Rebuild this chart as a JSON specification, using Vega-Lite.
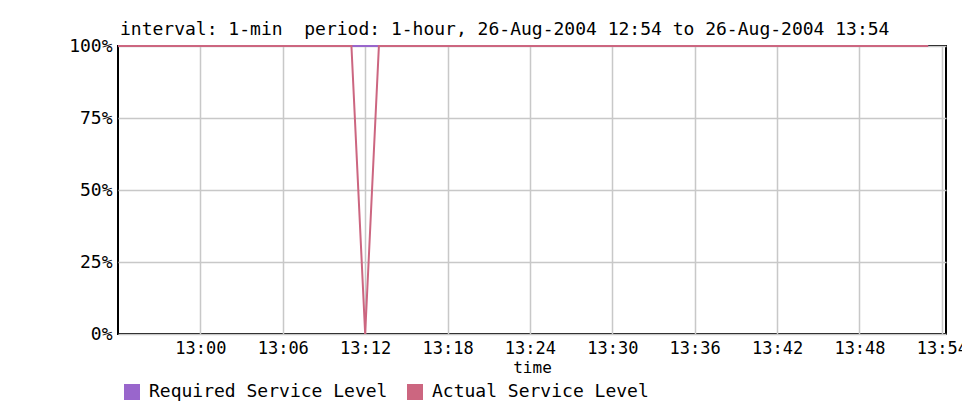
{
  "$schema": "https://vega.github.io/schema/vega-lite/v6.json",
  "width": 828,
  "height": 288,
  "autosize": {"type": "none"},
  "padding": {"left": 118, "top": 46, "right": 16, "bottom": 76},
  "background": "white",
  "title": {
    "text": "interval: 1-min\u00a0\u00a0period: 1-hour, 26-Aug-2004 12:54 to 26-Aug-2004 13:54",
    "anchor": "start",
    "frame": "group",
    "font": "DejaVu Sans Mono",
    "fontSize": 18,
    "fontWeight": "normal",
    "color": "#000000",
    "offset": 8,
    "dx": 2,
    "dy": 10
  },
  "config": {
    "view": {"stroke": "#000000", "strokeWidth": 2},
    "axis": {
      "labelFont": "DejaVu Sans Mono",
      "labelFontSize": 18,
      "labelColor": "#000000",
      "titleFont": "DejaVu Sans Mono",
      "titleFontSize": 16,
      "titleFontWeight": "normal",
      "titleColor": "#000000",
      "domain": false,
      "ticks": false,
      "gridColor": "#c8c8c8",
      "gridWidth": 1.5,
      "gridOpacity": 1
    },
    "legend": {
      "labelFont": "DejaVu Sans Mono",
      "labelFontSize": 18,
      "labelColor": "#000000",
      "labelLimit": 400
    }
  },
  "data": {
    "values": [
      {"t": "2004-08-26T12:54:00Z", "required": 100, "actual": 100},
      {"t": "2004-08-26T12:55:00Z", "required": 100, "actual": 100},
      {"t": "2004-08-26T12:56:00Z", "required": 100, "actual": 100},
      {"t": "2004-08-26T12:57:00Z", "required": 100, "actual": 100},
      {"t": "2004-08-26T12:58:00Z", "required": 100, "actual": 100},
      {"t": "2004-08-26T12:59:00Z", "required": 100, "actual": 100},
      {"t": "2004-08-26T13:00:00Z", "required": 100, "actual": 100},
      {"t": "2004-08-26T13:01:00Z", "required": 100, "actual": 100},
      {"t": "2004-08-26T13:02:00Z", "required": 100, "actual": 100},
      {"t": "2004-08-26T13:03:00Z", "required": 100, "actual": 100},
      {"t": "2004-08-26T13:04:00Z", "required": 100, "actual": 100},
      {"t": "2004-08-26T13:05:00Z", "required": 100, "actual": 100},
      {"t": "2004-08-26T13:06:00Z", "required": 100, "actual": 100},
      {"t": "2004-08-26T13:07:00Z", "required": 100, "actual": 100},
      {"t": "2004-08-26T13:08:00Z", "required": 100, "actual": 100},
      {"t": "2004-08-26T13:09:00Z", "required": 100, "actual": 100},
      {"t": "2004-08-26T13:10:00Z", "required": 100, "actual": 100},
      {"t": "2004-08-26T13:11:00Z", "required": 100, "actual": 100},
      {"t": "2004-08-26T13:12:00Z", "required": 100, "actual": 0},
      {"t": "2004-08-26T13:13:00Z", "required": 100, "actual": 100},
      {"t": "2004-08-26T13:14:00Z", "required": 100, "actual": 100},
      {"t": "2004-08-26T13:15:00Z", "required": 100, "actual": 100},
      {"t": "2004-08-26T13:16:00Z", "required": 100, "actual": 100},
      {"t": "2004-08-26T13:17:00Z", "required": 100, "actual": 100},
      {"t": "2004-08-26T13:18:00Z", "required": 100, "actual": 100},
      {"t": "2004-08-26T13:19:00Z", "required": 100, "actual": 100},
      {"t": "2004-08-26T13:20:00Z", "required": 100, "actual": 100},
      {"t": "2004-08-26T13:21:00Z", "required": 100, "actual": 100},
      {"t": "2004-08-26T13:22:00Z", "required": 100, "actual": 100},
      {"t": "2004-08-26T13:23:00Z", "required": 100, "actual": 100},
      {"t": "2004-08-26T13:24:00Z", "required": 100, "actual": 100},
      {"t": "2004-08-26T13:25:00Z", "required": 100, "actual": 100},
      {"t": "2004-08-26T13:26:00Z", "required": 100, "actual": 100},
      {"t": "2004-08-26T13:27:00Z", "required": 100, "actual": 100},
      {"t": "2004-08-26T13:28:00Z", "required": 100, "actual": 100},
      {"t": "2004-08-26T13:29:00Z", "required": 100, "actual": 100},
      {"t": "2004-08-26T13:30:00Z", "required": 100, "actual": 100},
      {"t": "2004-08-26T13:31:00Z", "required": 100, "actual": 100},
      {"t": "2004-08-26T13:32:00Z", "required": 100, "actual": 100},
      {"t": "2004-08-26T13:33:00Z", "required": 100, "actual": 100},
      {"t": "2004-08-26T13:34:00Z", "required": 100, "actual": 100},
      {"t": "2004-08-26T13:35:00Z", "required": 100, "actual": 100},
      {"t": "2004-08-26T13:36:00Z", "required": 100, "actual": 100},
      {"t": "2004-08-26T13:37:00Z", "required": 100, "actual": 100},
      {"t": "2004-08-26T13:38:00Z", "required": 100, "actual": 100},
      {"t": "2004-08-26T13:39:00Z", "required": 100, "actual": 100},
      {"t": "2004-08-26T13:40:00Z", "required": 100, "actual": 100},
      {"t": "2004-08-26T13:41:00Z", "required": 100, "actual": 100},
      {"t": "2004-08-26T13:42:00Z", "required": 100, "actual": 100},
      {"t": "2004-08-26T13:43:00Z", "required": 100, "actual": 100},
      {"t": "2004-08-26T13:44:00Z", "required": 100, "actual": 100},
      {"t": "2004-08-26T13:45:00Z", "required": 100, "actual": 100},
      {"t": "2004-08-26T13:46:00Z", "required": 100, "actual": 100},
      {"t": "2004-08-26T13:47:00Z", "required": 100, "actual": 100},
      {"t": "2004-08-26T13:48:00Z", "required": 100, "actual": 100},
      {"t": "2004-08-26T13:49:00Z", "required": 100, "actual": 100},
      {"t": "2004-08-26T13:50:00Z", "required": 100, "actual": 100},
      {"t": "2004-08-26T13:51:00Z", "required": 100, "actual": 100},
      {"t": "2004-08-26T13:52:00Z", "required": 100, "actual": 100},
      {"t": "2004-08-26T13:53:00Z", "required": 100, "actual": 100}
    ]
  },
  "encoding": {
    "x": {
      "field": "t",
      "type": "temporal",
      "title": "time",
      "scale": {
        "type": "utc",
        "nice": false,
        "domain": [
          {"year": 2004, "month": 8, "date": 26, "hours": 12, "minutes": 54, "seconds": 0, "utc": true},
          {"year": 2004, "month": 8, "date": 26, "hours": 13, "minutes": 54, "seconds": 18, "utc": true}
        ]
      },
      "axis": {
        "format": "%H:%M",
        "labelFontSize": 17,
        "labelPadding": 6,
        "titlePadding": 3,
        "labelFlush": false,
        "labelOverlap": false,
        "values": [
          {"year": 2004, "month": 8, "date": 26, "hours": 13, "minutes": 0, "utc": true},
          {"year": 2004, "month": 8, "date": 26, "hours": 13, "minutes": 6, "utc": true},
          {"year": 2004, "month": 8, "date": 26, "hours": 13, "minutes": 12, "utc": true},
          {"year": 2004, "month": 8, "date": 26, "hours": 13, "minutes": 18, "utc": true},
          {"year": 2004, "month": 8, "date": 26, "hours": 13, "minutes": 24, "utc": true},
          {"year": 2004, "month": 8, "date": 26, "hours": 13, "minutes": 30, "utc": true},
          {"year": 2004, "month": 8, "date": 26, "hours": 13, "minutes": 36, "utc": true},
          {"year": 2004, "month": 8, "date": 26, "hours": 13, "minutes": 42, "utc": true},
          {"year": 2004, "month": 8, "date": 26, "hours": 13, "minutes": 48, "utc": true},
          {"year": 2004, "month": 8, "date": 26, "hours": 13, "minutes": 54, "utc": true}
        ]
      }
    }
  },
  "layer": [
    {
      "mark": {"type": "line", "strokeWidth": 2, "clip": false},
      "encoding": {
        "y": {
          "field": "required",
          "type": "quantitative",
          "title": null,
          "scale": {"domain": [0, 100], "nice": false},
          "axis": {
            "values": [0, 25, 50, 75, 100],
            "labelExpr": "datum.value + '%'",
            "labelPadding": 6,
            "labelFlush": false
          }
        },
        "color": {
          "datum": "Required Service Level",
          "type": "nominal",
          "scale": {
            "domain": ["Required Service Level", "Actual Service Level"],
            "range": ["#9966cc", "#cc6680"]
          },
          "legend": {
            "title": null,
            "orient": "none",
            "direction": "horizontal",
            "legendX": 5,
            "legendY": 337,
            "symbolType": "square",
            "symbolSize": 256,
            "symbolStrokeWidth": 0,
            "symbolOpacity": 1,
            "labelOffset": 8,
            "columnPadding": 18,
            "encode": {
              "symbols": {
                "update": {
                  "fill": {"scale": "color", "field": "value"},
                  "fillOpacity": {"value": 1},
                  "strokeWidth": {"value": 0}
                }
              }
            }
          }
        }
      }
    },
    {
      "mark": {"type": "line", "strokeWidth": 2, "clip": false},
      "encoding": {
        "y": {"field": "actual", "type": "quantitative"},
        "color": {"datum": "Actual Service Level", "type": "nominal"}
      }
    }
  ]
}
